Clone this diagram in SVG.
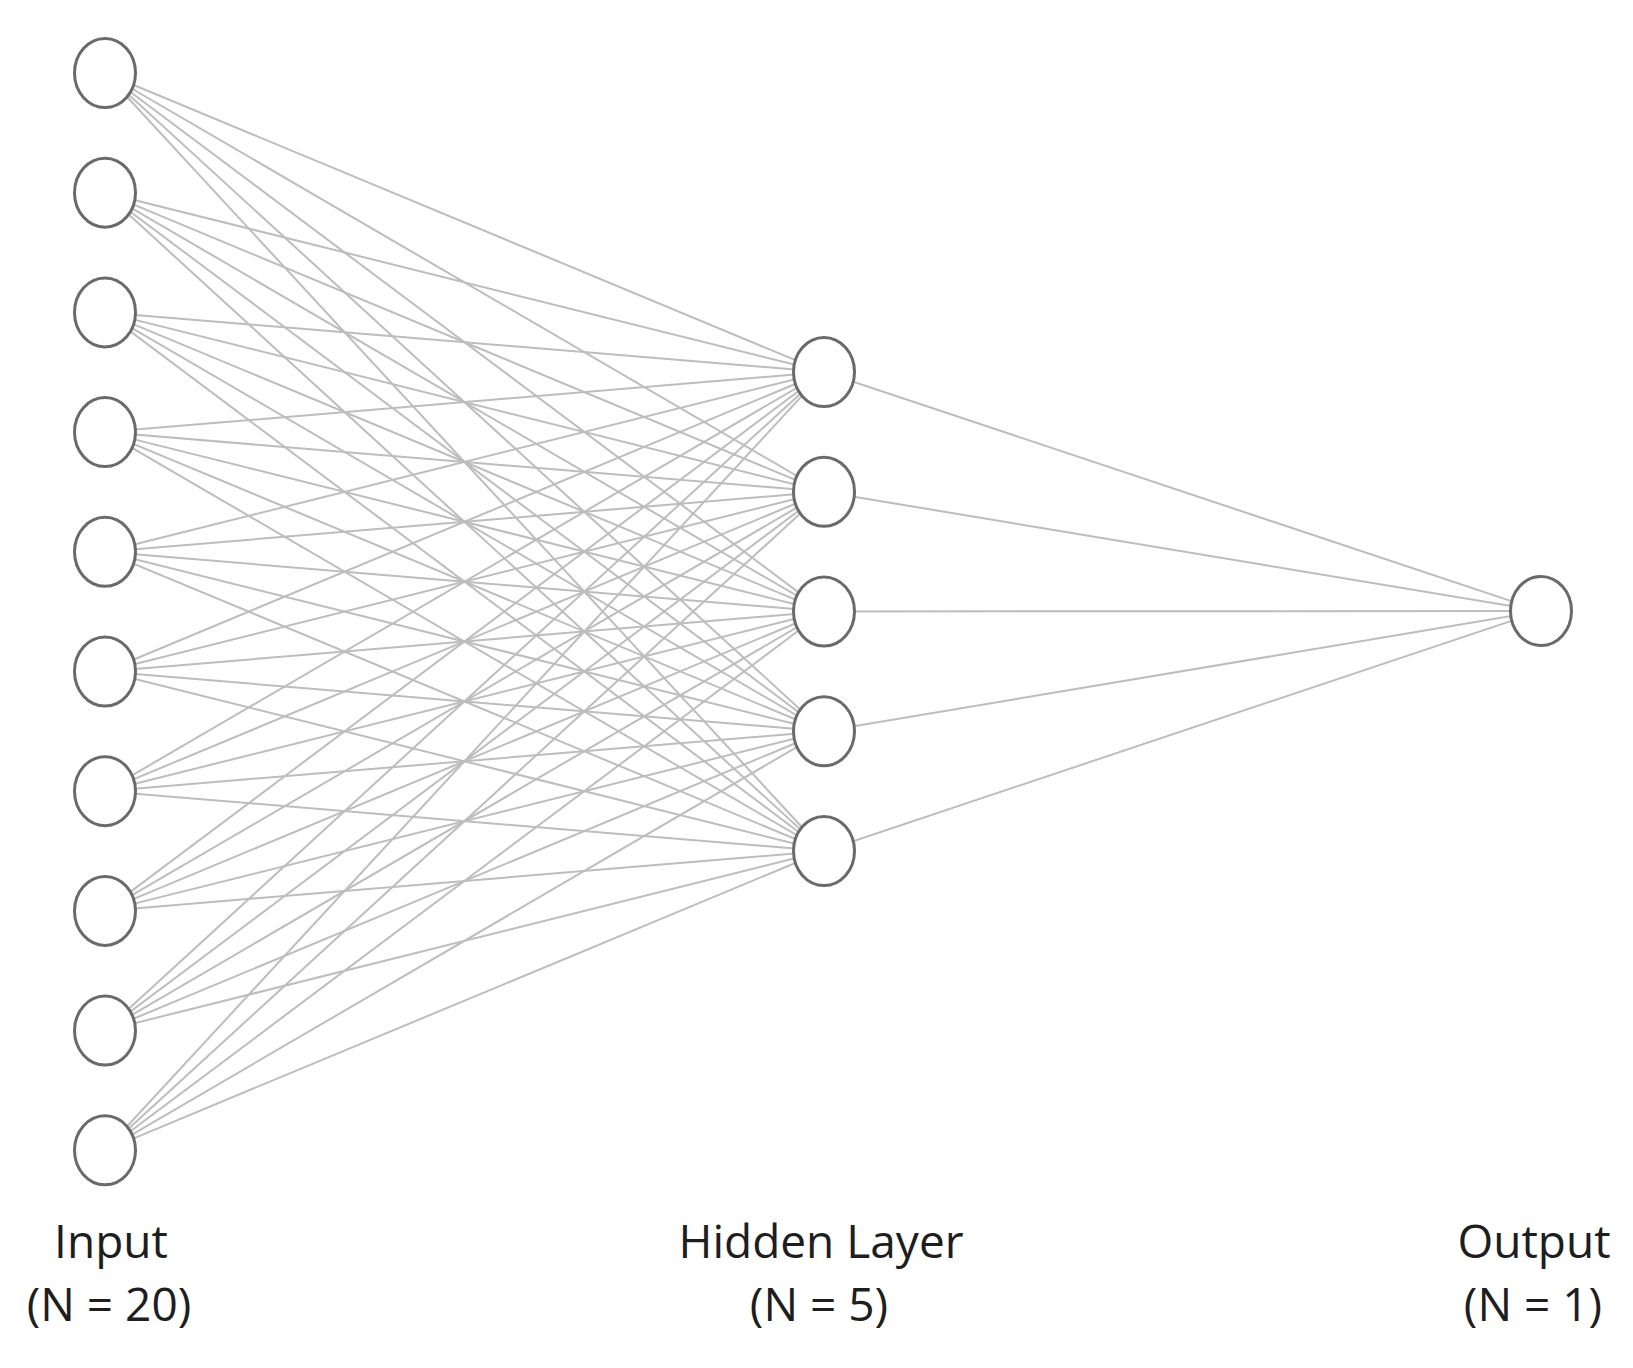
<svg xmlns="http://www.w3.org/2000/svg" width="1633" height="1368" viewBox="0 0 1633 1368">
<style>
.n{fill:#fff;stroke:#6a6a6a;stroke-width:3}
.c line{stroke:#bdbdbd;stroke-width:2}
.t{font-family:"Open Sans","Liberation Sans",sans-serif;font-size:46px;fill:#1e1e1e;text-anchor:middle}
</style>
<rect width="1633" height="1368" fill="#fff"/>
<g id="connectors" class="c">
<line x1="105" y1="73" x2="824" y2="372"/><line x1="105" y1="73" x2="824" y2="491.75"/><line x1="105" y1="73" x2="824" y2="611.5"/><line x1="105" y1="73" x2="824" y2="731.25"/><line x1="105" y1="73" x2="824" y2="851"/>
<line x1="105" y1="192.7" x2="824" y2="372"/><line x1="105" y1="192.7" x2="824" y2="491.75"/><line x1="105" y1="192.7" x2="824" y2="611.5"/><line x1="105" y1="192.7" x2="824" y2="731.25"/><line x1="105" y1="192.7" x2="824" y2="851"/>
<line x1="105" y1="312.4" x2="824" y2="372"/><line x1="105" y1="312.4" x2="824" y2="491.75"/><line x1="105" y1="312.4" x2="824" y2="611.5"/><line x1="105" y1="312.4" x2="824" y2="731.25"/><line x1="105" y1="312.4" x2="824" y2="851"/>
<line x1="105" y1="432.1" x2="824" y2="372"/><line x1="105" y1="432.1" x2="824" y2="491.75"/><line x1="105" y1="432.1" x2="824" y2="611.5"/><line x1="105" y1="432.1" x2="824" y2="731.25"/><line x1="105" y1="432.1" x2="824" y2="851"/>
<line x1="105" y1="551.8" x2="824" y2="372"/><line x1="105" y1="551.8" x2="824" y2="491.75"/><line x1="105" y1="551.8" x2="824" y2="611.5"/><line x1="105" y1="551.8" x2="824" y2="731.25"/><line x1="105" y1="551.8" x2="824" y2="851"/>
<line x1="105" y1="671.5" x2="824" y2="372"/><line x1="105" y1="671.5" x2="824" y2="491.75"/><line x1="105" y1="671.5" x2="824" y2="611.5"/><line x1="105" y1="671.5" x2="824" y2="731.25"/><line x1="105" y1="671.5" x2="824" y2="851"/>
<line x1="105" y1="791.2" x2="824" y2="372"/><line x1="105" y1="791.2" x2="824" y2="491.75"/><line x1="105" y1="791.2" x2="824" y2="611.5"/><line x1="105" y1="791.2" x2="824" y2="731.25"/><line x1="105" y1="791.2" x2="824" y2="851"/>
<line x1="105" y1="910.9" x2="824" y2="372"/><line x1="105" y1="910.9" x2="824" y2="491.75"/><line x1="105" y1="910.9" x2="824" y2="611.5"/><line x1="105" y1="910.9" x2="824" y2="731.25"/><line x1="105" y1="910.9" x2="824" y2="851"/>
<line x1="105" y1="1030.6" x2="824" y2="372"/><line x1="105" y1="1030.6" x2="824" y2="491.75"/><line x1="105" y1="1030.6" x2="824" y2="611.5"/><line x1="105" y1="1030.6" x2="824" y2="731.25"/><line x1="105" y1="1030.6" x2="824" y2="851"/>
<line x1="105" y1="1150.3" x2="824" y2="372"/><line x1="105" y1="1150.3" x2="824" y2="491.75"/><line x1="105" y1="1150.3" x2="824" y2="611.5"/><line x1="105" y1="1150.3" x2="824" y2="731.25"/><line x1="105" y1="1150.3" x2="824" y2="851"/>
<line x1="824" y1="372" x2="1541" y2="611"/><line x1="824" y1="491.75" x2="1541" y2="611"/><line x1="824" y1="611.5" x2="1541" y2="611"/><line x1="824" y1="731.25" x2="1541" y2="611"/><line x1="824" y1="851" x2="1541" y2="611"/>
</g>
<g id="input-1"><ellipse class="n" cx="105" cy="73" rx="30.5" ry="34.5"/></g>
<g id="input-2"><ellipse class="n" cx="105" cy="192.7" rx="30.5" ry="34.5"/></g>
<g id="input-3"><ellipse class="n" cx="105" cy="312.4" rx="30.5" ry="34.5"/></g>
<g id="input-4"><ellipse class="n" cx="105" cy="432.1" rx="30.5" ry="34.5"/></g>
<g id="input-5"><ellipse class="n" cx="105" cy="551.8" rx="30.5" ry="34.5"/></g>
<g id="input-6"><ellipse class="n" cx="105" cy="671.5" rx="30.5" ry="34.5"/></g>
<g id="input-7"><ellipse class="n" cx="105" cy="791.2" rx="30.5" ry="34.5"/></g>
<g id="input-8"><ellipse class="n" cx="105" cy="910.9" rx="30.5" ry="34.5"/></g>
<g id="input-9"><ellipse class="n" cx="105" cy="1030.6" rx="30.5" ry="34.5"/></g>
<g id="input-10"><ellipse class="n" cx="105" cy="1150.3" rx="30.5" ry="34.5"/></g>
<g id="hidden-1"><ellipse class="n" cx="824" cy="372" rx="30.5" ry="34.5"/></g>
<g id="hidden-2"><ellipse class="n" cx="824" cy="491.75" rx="30.5" ry="34.5"/></g>
<g id="hidden-3"><ellipse class="n" cx="824" cy="611.5" rx="30.5" ry="34.5"/></g>
<g id="hidden-4"><ellipse class="n" cx="824" cy="731.25" rx="30.5" ry="34.5"/></g>
<g id="hidden-5"><ellipse class="n" cx="824" cy="851" rx="30.5" ry="34.5"/></g>
<g id="output-1"><ellipse class="n" cx="1541" cy="611" rx="30.5" ry="34.5"/></g>
<g id="labels">
<text class="t" x="111" y="1258">Input</text>
<text class="t" x="109" y="1321">(N = 20)</text>
<text class="t" x="821" y="1258">Hidden Layer</text>
<text class="t" x="819" y="1321">(N = 5)</text>
<text class="t" x="1534" y="1258">Output</text>
<text class="t" x="1533" y="1321">(N = 1)</text>
</g>
</svg>
